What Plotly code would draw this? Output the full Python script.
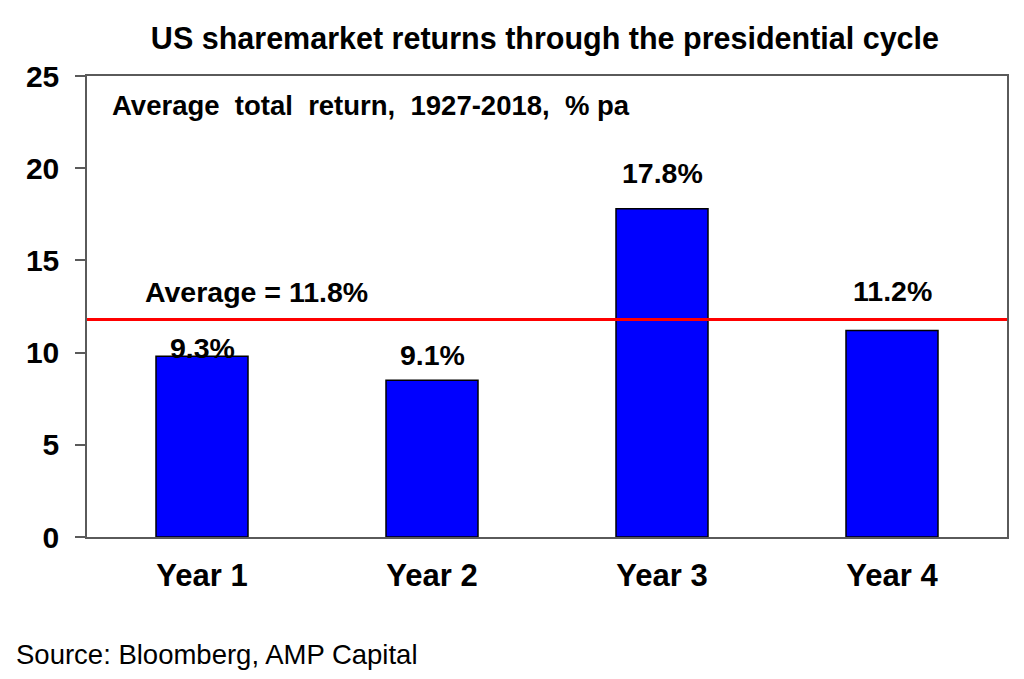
import plotly.graph_objects as go

# data
years = ["Year 1", "Year 2", "Year 3", "Year 4"]
returns = [9.8, 8.5, 17.8, 11.2]
labels = ["9.3%", "9.1%", "17.8%", "11.2%"]
average = 11.8

FONT = "Liberation Sans, Arial, sans-serif"

fig = go.Figure()

fig.add_trace(go.Bar(
    x=years,
    y=returns,
    marker=dict(color="#0000FF", line=dict(color="black", width=1.5)),
    hoverinfo="skip",
))

# red average line across the whole plot
fig.add_shape(
    type="line", xref="paper", x0=0, x1=1, yref="y", y0=average, y1=average,
    line=dict(color="#FF0000", width=3),
)

# value labels above bars (pixel lift above each bar top)
lifts = [8, 25, 36, 39]
for yr, val, lab, lift in zip(years, returns, labels, lifts):
    fig.add_annotation(
        x=yr, y=val, text="<b>%s</b>" % lab, showarrow=False,
        yanchor="middle", yshift=lift,
        font=dict(size=28.5, color="black", family=FONT),
    )

fig.add_annotation(
    xref="paper", x=0.061, xanchor="left", y=average, yshift=27, yanchor="middle",
    text="<b>Average = %.1f%%</b>" % average, showarrow=False,
    font=dict(size=28.5, color="black", family=FONT),
)

fig.add_annotation(
    xref="paper", yref="paper", x=0.025, y=0.935, xanchor="left", yanchor="middle",
    text="<b>Average  total  return,  1927-2018,  % pa</b>", showarrow=False,
    font=dict(size=27.5, color="black", family=FONT),
)

fig.add_annotation(
    xref="paper", yref="paper", x=-0.0793, y=-0.255, xanchor="left", yanchor="middle",
    text="Source: Bloomberg, AMP Capital", showarrow=False,
    font=dict(size=27.5, color="black", family=FONT),
)

# page has an 8px body margin, so the figure is 8px smaller each way
fig.update_layout(
    title=dict(
        text="<b>US sharemarket returns through the presidential cycle</b>",
        x=0.5285, xanchor="center", xref="container",
        y=1 - 30 / 671, yanchor="middle", yref="container",
        font=dict(size=30.5, color="black", family=FONT),
    ),
    width=1016, height=671,
    margin=dict(l=79, r=17, t=68, b=141.5),
    paper_bgcolor="white", plot_bgcolor="white",
    showlegend=False,
    bargap=0.6,
    font=dict(family=FONT, color="black"),
)

fig.update_xaxes(
    showline=True, mirror=True, linecolor="#5a5a5a", linewidth=1.5,
    showgrid=False, ticks="", ticklabelstandoff=10,
    tickfont=dict(size=31, color="black", family=FONT),
    tickprefix="<b>", ticksuffix="</b>",
)

fig.update_yaxes(
    range=[0, 25], dtick=5,
    showline=True, mirror=True, linecolor="#5a5a5a", linewidth=1.5,
    showgrid=False, zeroline=False,
    ticks="outside", ticklen=10, tickcolor="#5a5a5a", tickwidth=1.5,
    ticklabelstandoff=10,
    tickfont=dict(size=30, color="black", family=FONT),
    tickprefix="<b>", ticksuffix="</b>",
)

fig.write_html("out.html")
